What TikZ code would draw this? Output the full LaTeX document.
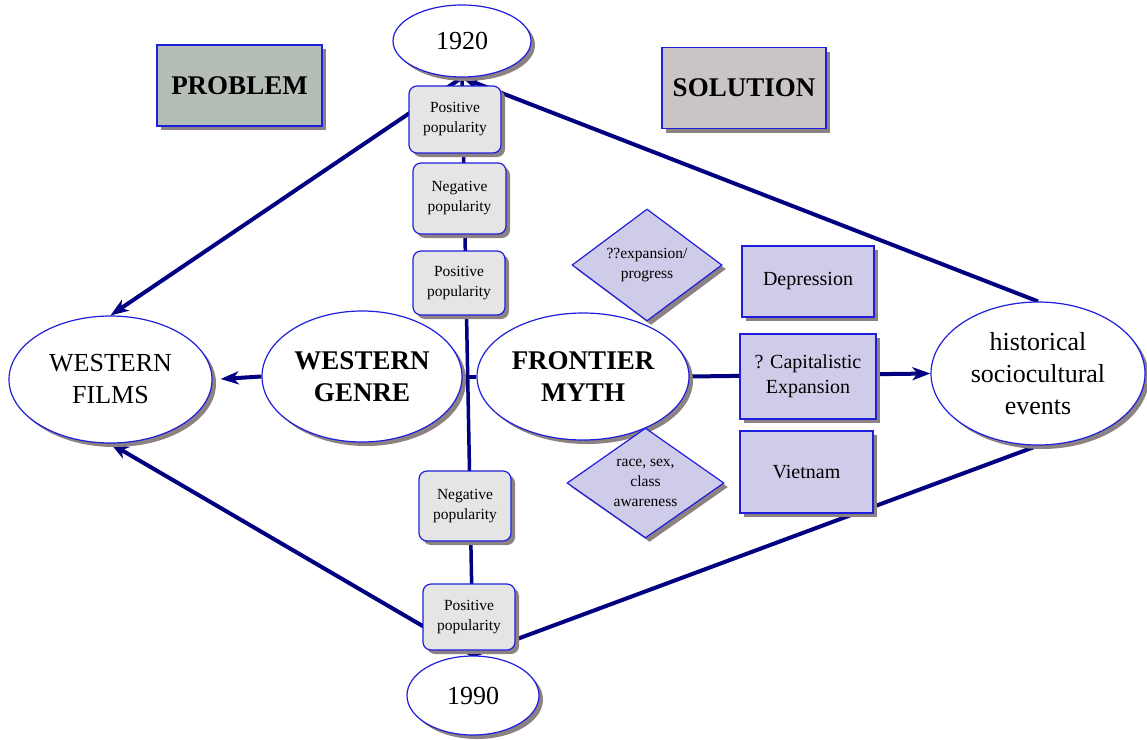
\documentclass[tikz,border=0pt]{standalone}
\usepackage{fontspec}
\setmainfont{Liberation Serif}
\usetikzlibrary{shapes.geometric,shadows,arrows.meta}
\pgfdeclarelayer{background}
\pgfsetlayers{background,main}
\definecolor{navy}{RGB}{0,0,128}
\definecolor{bordblue}{RGB}{30,30,220}
\definecolor{shadowc}{RGB}{140,130,130}
\definecolor{probfill}{RGB}{180,189,182}
\definecolor{solfill}{RGB}{202,197,197}
\definecolor{popfill}{RGB}{229,229,229}
\definecolor{lavfill}{RGB}{207,204,233}
\tikzset{
  shad/.style={drop shadow={shadow xshift=4pt,shadow yshift=-4pt,fill=shadowc,opacity=1}},
  base/.style={draw=bordblue,line width=1.2pt,inner sep=0pt,align=center,shad},
  bigtxt/.style={font=\fontsize{26}{32}\selectfont},
  bigbold/.style={font=\fontsize{27}{32}\selectfont\bfseries},
  midtxt/.style={font=\fontsize{20}{25}\selectfont},
  smalltxt/.style={font=\fontsize{15.5}{20}\selectfont},
  ell/.style={base,ellipse,fill=white},
  headbox/.style={base,rectangle,bigbold},
  popbox/.style={base,rectangle,rounded corners=8pt,fill=popfill,smalltxt},
  lavbox/.style={base,rectangle,fill=lavfill,midtxt},
  dia/.style={base,diamond,fill=lavfill,smalltxt},
  conn/.style={draw=navy,line width=4pt},
  tip/.style={-{Stealth[length=18pt,width=13pt,inset=5pt]}}
}
\begin{document}
\begin{tikzpicture}[x=1pt,y=-1pt]
\useasboundingbox (0,0) rectangle (1147,739);
% header boxes
\node[headbox,fill=probfill,minimum width=165pt,minimum height=81pt] (problem) at (239.5,85.5) {PROBLEM};
\node[headbox,fill=solfill,minimum width=164pt,minimum height=81pt] (solution) at (744,88) {SOLUTION};
% years
\node[ell,bigtxt,minimum width=138pt,minimum height=72pt] (y1920) at (462,41) {1920};
\node[ell,bigtxt,minimum width=132pt,minimum height=79pt] (y1990) at (473,695.5) {1990};
% popularity boxes
\node[popbox,minimum width=92pt,minimum height=67pt] (pp1) at (455,119.5) {Positive\\popularity};
\node[popbox,minimum width=93pt,minimum height=71pt] (np1) at (459.5,198.5) {Negative\\popularity};
\node[popbox,minimum width=92pt,minimum height=64pt] (pp2) at (459,283) {Positive\\popularity};
\node[popbox,minimum width=92pt,minimum height=70pt] (np2) at (465,506) {Negative\\popularity};
\node[popbox,minimum width=92pt,minimum height=66pt] (pp3) at (469,617) {Positive\\popularity};
% main ellipses
\node[ell,bigtxt,minimum width=203pt,minimum height=127pt] (films) at (110.5,379.5) {WESTERN\\FILMS};
\node[ell,bigbold,minimum width=200pt,minimum height=131pt] (genre) at (362,376.5) {WESTERN\\GENRE};
\node[ell,bigbold,minimum width=212pt,minimum height=127pt] (myth) at (583,376.5) {FRONTIER\\MYTH};
\node[ell,bigtxt,minimum width=214pt,minimum height=143pt] (hist) at (1038,373.5) {historical\\sociocultural\\events};
% lavender boxes
\node[lavbox,minimum width=132pt,minimum height=71pt] (depr) at (808,281.5) {Depression};
\node[lavbox,minimum width=136pt,minimum height=85pt] (capital) at (808,376.5) {? Capitalistic\\Expansion};
\node[lavbox,minimum width=133pt,minimum height=82pt] (viet) at (806.5,472) {Vietnam};
% diamonds
\node[dia,minimum width=150pt,minimum height=112pt,shape aspect=1.34] (dia1) at (647,265) {??expansion/\\progress};
\node[dia,minimum width=157pt,minimum height=110pt,shape aspect=1.43] (dia2) at (645.5,483) {race, sex,\\class\\awareness};
% connectors
\begin{pgfonlayer}{background}
\draw[conn,tip] (y1920.south) -- (films.north);
\draw[conn,tip] (hist.north) -- (y1920.south);
\draw[conn,tip] (y1990.north) -- (films.south);
\draw[conn] (hist.south) -- (y1990.north);
\draw[conn,line width=3.5pt] (y1920.south) -- (y1990.north);
\draw[conn] (genre.east) -- (myth.west);
\draw[conn,tip,shorten >=8pt] (genre.west) -- (films.east);
\draw[conn,tip] (myth.east) -- (hist.west);
\end{pgfonlayer}
\end{tikzpicture}
\end{document}
